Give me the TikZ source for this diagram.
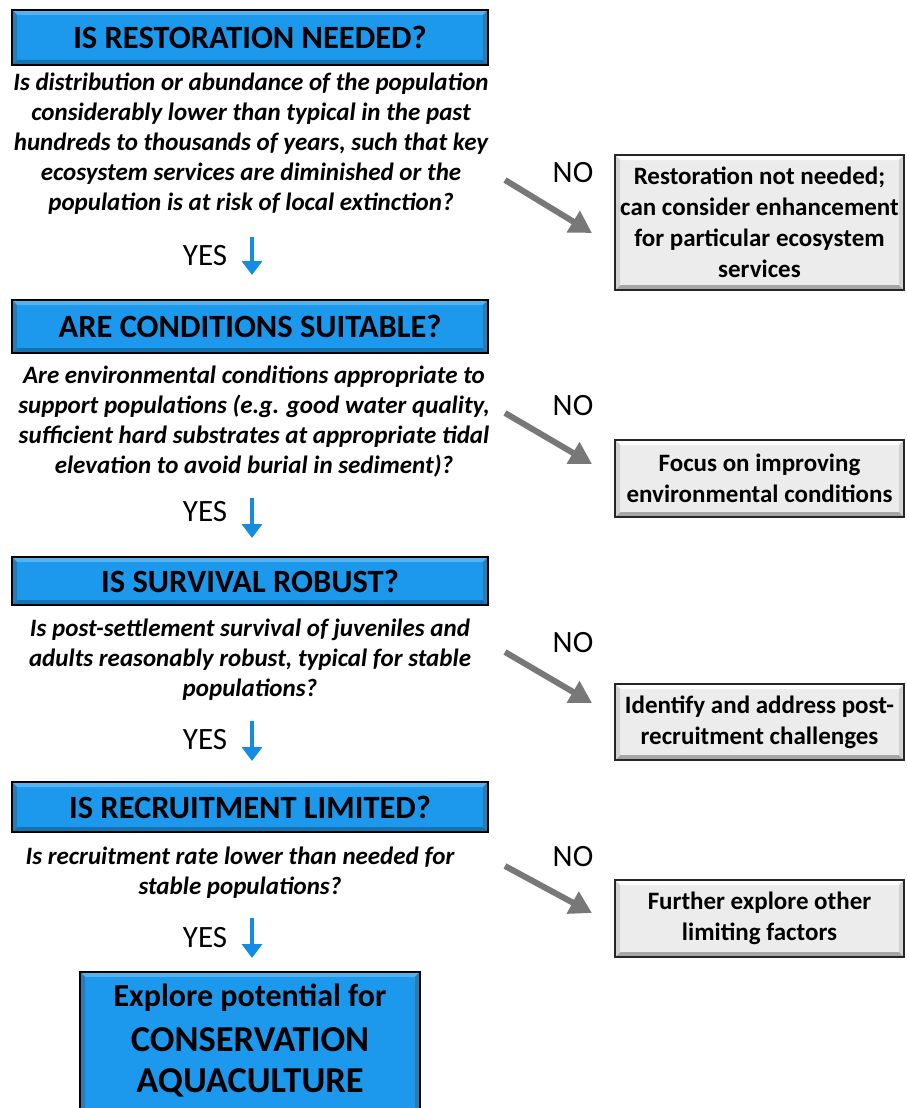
\documentclass[tikz,border=0pt]{standalone}
\usepackage{fontspec}
\setmainfont{Carlito}
\usetikzlibrary{arrows.meta}
\definecolor{boxblue}{RGB}{28,152,236}
\definecolor{boxgrey}{RGB}{236,236,236}
\definecolor{arrgrey}{RGB}{120,120,120}
\definecolor{arrblue}{RGB}{20,140,225}
\tikzset{
  bevel/.style 2 args={path picture={
    \fill[#1] (path picture bounding box.north west) -- (path picture bounding box.north east)
      -- ([xshift=-5pt,yshift=-5pt]path picture bounding box.north east) -- ([xshift=5pt,yshift=-5pt]path picture bounding box.north west) -- cycle;
    \fill[#2] (path picture bounding box.south west) -- (path picture bounding box.south east)
      -- ([xshift=-5pt,yshift=5pt]path picture bounding box.south east) -- ([xshift=5pt,yshift=5pt]path picture bounding box.south west) -- cycle;
    \fill[#1!50!#2] (path picture bounding box.north west) -- ([xshift=5pt,yshift=-5pt]path picture bounding box.north west)
      -- ([xshift=5pt,yshift=5pt]path picture bounding box.south west) -- (path picture bounding box.south west) -- cycle;
    \fill[#1!50!#2] (path picture bounding box.north east) -- ([xshift=-5pt,yshift=-5pt]path picture bounding box.north east)
      -- ([xshift=-5pt,yshift=5pt]path picture bounding box.south east) -- (path picture bounding box.south east) -- cycle;
  }},
  header/.style={draw=black, line width=1.5pt, fill=boxblue, bevel={boxblue!75!white}{boxblue!75!black},
    minimum width=476pt, inner sep=0pt, font=\bfseries\fontsize{32.5}{34}\selectfont},
  outcome/.style={draw=black!85, line width=1.5pt, fill=boxgrey, bevel={white}{black!35},
    minimum width=289pt, inner sep=0pt, align=center, font=\bfseries\fontsize{25}{31}\selectfont},
  question/.style={align=center, font=\bfseries\itshape\fontsize{25}{30}\selectfont},
  lbl/.style={font=\fontsize{31}{32}\selectfont},
  noarrow/.style={draw=arrgrey, line width=6pt, -{Triangle[length=22pt,width=24pt]}},
  yesarrow/.style={draw=arrblue, line width=3.5pt, -{Triangle[length=14pt,width=20pt]}},
}
\begin{document}
\begin{tikzpicture}[x=1pt,y=-1pt]
\useasboundingbox (0,0) rectangle (906,1108);
\clip (0,0) rectangle (906,1108);
% headers
\node[header, minimum height=55pt] (h1) at (250,37.5) {IS RESTORATION NEEDED?};
\node[header, minimum height=53pt] (h2) at (250,326.5) {ARE CONDITIONS SUITABLE?};
\node[header, minimum height=48pt] (h3) at (250,581) {IS SURVIVAL ROBUST?};
\node[header, minimum height=50pt] (h4) at (250,807) {IS RECRUITMENT LIMITED?};
% questions
\node[question] (q1) at (251,143.5) {Is distribution or abundance of the population\\considerably lower than typical in the past\\hundreds to thousands of years, such that key\\ecosystem services are diminished or the\\population is at risk of local extinction?};
\node[question] (q2) at (254,421.5) {Are environmental conditions appropriate to\\support populations (e.g. good water quality,\\sufficient hard substrates at appropriate tidal\\elevation to avoid burial in sediment)?};
\node[question] (q3) at (250,660) {Is post-settlement survival of juveniles and\\adults reasonably robust, typical for stable\\populations?};
\node[question] (q4) at (240,873) {Is recruitment rate lower than needed for\\stable populations?};
% outcomes
\node[outcome, minimum height=135pt] (o1) at (759.5,222.5) {Restoration not needed;\\can consider enhancement\\for particular ecosystem\\services};
\node[outcome, minimum height=77pt] (o2) at (759.5,478.5) {Focus on improving\\environmental conditions};
\node[outcome, minimum height=76pt] (o3) at (759.5,722) {Identify and address post-\\recruitment challenges};
\node[outcome, minimum height=77pt] (o4) at (759.5,918.5) {Further explore other\\limiting factors};
% final
\node[draw=black, line width=1.8pt, fill=boxblue, bevel={boxblue!75!white}{boxblue!75!black},
  minimum width=340pt, minimum height=150pt, inner sep=0pt, anchor=north] (fin) at (250,971) {};
\node[font=\bfseries\fontsize{32}{34}\selectfont] (f1) at (250,998) {Explore potential for};
\node[font=\bfseries\fontsize{36.5}{38}\selectfont] (f2) at (250,1040) {CONSERVATION};
\node[font=\bfseries\fontsize{36.5}{38}\selectfont] (f3) at (250,1083) {AQUACULTURE};
% yes labels and arrows
\node[lbl] (y1) at (205,256) {YES};
\node[lbl] (y2) at (205,512) {YES};
\node[lbl] (y3) at (205,740) {YES};
\node[lbl] (y4) at (205,938) {YES};
\coordinate (ya1) at (252,237); \coordinate (yb1) at (252,275);
\coordinate (ya2) at (252,498); \coordinate (yb2) at (252,538);
\coordinate (ya3) at (252,721); \coordinate (yb3) at (252,761);
\coordinate (ya4) at (252,918); \coordinate (yb4) at (252,958);
\draw[yesarrow] (ya1) -- (yb1);
\draw[yesarrow] (ya2) -- (yb2);
\draw[yesarrow] (ya3) -- (yb3);
\draw[yesarrow] (ya4) -- (yb4);
% no labels and arrows
\node[lbl] (n1) at (573,173) {NO};
\node[lbl] (n2) at (573,406) {NO};
\node[lbl] (n3) at (573,643) {NO};
\node[lbl] (n4) at (573,857) {NO};
\coordinate (na1) at (505,180); \coordinate (nb1) at (592,233);
\coordinate (na2) at (505,413); \coordinate (nb2) at (592,464);
\coordinate (na3) at (505,652); \coordinate (nb3) at (592,703);
\coordinate (na4) at (505,866); \coordinate (nb4) at (592,913);
\draw[noarrow] (na1) -- (nb1);
\draw[noarrow] (na2) -- (nb2);
\draw[noarrow] (na3) -- (nb3);
\draw[noarrow] (na4) -- (nb4);
\end{tikzpicture}
\end{document}
